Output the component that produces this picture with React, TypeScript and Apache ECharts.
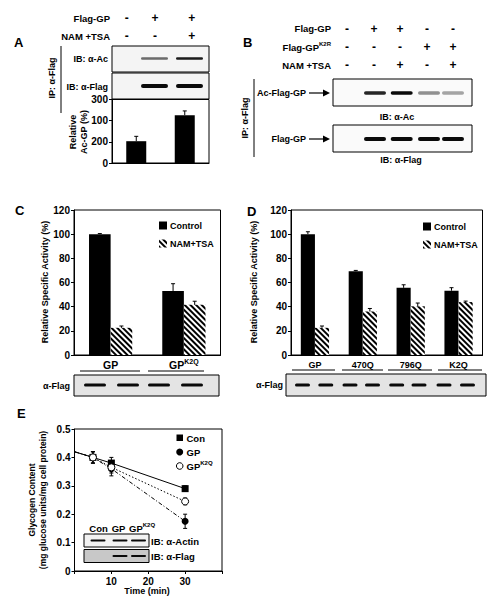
import React, { useEffect, useRef } from 'react';
import * as echarts from 'echarts';

const FONT = '"Liberation Sans", Arial, Helvetica, sans-serif';

// ---------- Panel A ----------
const aCategories = ['Flag-GP', 'Flag-GP + NAM/TSA'];
const aValues = [103, 226];
const aErrors = [23, 20];
const aTickLabels = ['0', '200', '100', '300'];
const aRowLabels = ['Flag-GP', 'NAM +TSA'];
const aSigns = [['-', '+', '+'], ['-', '-', '+']];
const aAcBands = [0, 0.45, 0.9];
const aFlagBands = [0, 1, 1];

// ---------- Panel B ----------
const bSigns = [
  ['-', '+', '+', '-', '-'],
  ['-', '-', '-', '+', '+'],
  ['-', '-', '+', '-', '+'],
];
const bAcBands = [0, 0.85, 1, 0.25, 0.15];
const bFlagBands = [0, 1, 1, 1, 1];

// ---------- Panel C ----------
const cCategories = ['GP', 'GPK2Q'];
const cControl = [100, 53];
const cControlErr = [0.5, 6];
const cNam = [22.5, 41.5];
const cNamErr = [1.5, 3];
const cFlagBands = [1, 1, 1, 1];

// ---------- Panel D ----------
const dCategories = ['GP', '470Q', '796Q', 'K2Q'];
const dControl = [100, 69.3, 55.6, 53.2];
const dControlErr = [2, 0.7, 2.5, 2.5];
const dNam = [22.5, 36, 40.3, 43.8];
const dNamErr = [1.5, 2.5, 2.7, 0.8];
const dFlagBands = [1, 1, 1, 1, 1, 1, 1, 1];

// ---------- Panel E ----------
const eTime = [0, 5, 10, 30];
const eCon = [0.42, 0.40, 0.38, 0.29];
const eConErr = [0, 0.02, 0.02, 0.01];
const eGP = [0.42, 0.40, 0.36, 0.175];
const eGPErr = [0, 0.02, 0.025, 0.025];
const eK2Q = [0.42, 0.40, 0.365, 0.245];
const eK2QErr = [0, 0.02, 0.02, 0.012];
const eInsetActin = [1, 1, 1];
const eInsetFlag = [0, 1, 1];

const GAP = 0.41;

const rich = (size: number) => ({
  n: { fontSize: size, fontWeight: 'bold', fontFamily: FONT, lineHeight: size + 3, fill: '#000', color: '#000' },
  s: { fontSize: Math.round(size * 0.65), fontWeight: 'bold', fontFamily: FONT, lineHeight: Math.round(size * 0.7), verticalAlign: 'top', fill: '#000', color: '#000' },
});

function txt(x: number, y: number, text: string, o: any = {}) {
  return {
    type: 'text',
    x,
    y,
    rotation: o.rotation || 0,
    z: 10,
    style: {
      text,
      fontSize: o.size || 9,
      fontWeight: o.weight || 'bold',
      fontFamily: FONT,
      fill: '#000',
      align: o.align || 'left',
      verticalAlign: 'middle',
      rich: o.rich,
    },
  };
}
function rect(x: number, y: number, w: number, h: number, fill: string, stroke: string | null = '#000') {
  return {
    type: 'rect',
    z: 5,
    shape: { x, y, width: w, height: h },
    style: { fill, stroke: stroke || undefined, lineWidth: stroke ? 1 : 0 },
  };
}
function ln(x1: number, y1: number, x2: number, y2: number, w = 1) {
  return { type: 'line', z: 10, shape: { x1, y1, x2, y2 }, style: { stroke: '#000', lineWidth: w } };
}
function bands(centers: number[], vals: number[], y: number, w: number, h: number) {
  const out: any[] = [];
  centers.forEach((c, i) => {
    const v = vals[i];
    if (v > 0) {
      out.push({
        type: 'rect',
        z: 8,
        shape: { x: c - w / 2, y: y - h / 2, width: w, height: h, r: h / 2 },
        style: { fill: `rgba(10,10,10,${(0.25 + 0.75 * v).toFixed(2)})` },
      });
    }
  });
  return out;
}
function arrow(x1: number, x2: number, y: number) {
  return [
    ln(x1, y, x2 - 5, y, 1.2),
    { type: 'polygon', z: 10, shape: { points: [[x2 - 7, y - 3.5], [x2, y], [x2 - 7, y + 3.5]] }, style: { fill: '#000' } },
  ];
}

function errBar(sign: number, grouped: boolean) {
  return (params: any, api: any) => {
    const i = api.value(0);
    const v = api.value(1);
    const e = api.value(2);
    const p0 = api.coord([i, v]);
    const p1 = api.coord([i, v + e]);
    const band = api.size([1, 0])[0];
    const bw = grouped ? (band * (1 - GAP)) / 2 : 0;
    const x = p0[0] + (sign * bw) / 2;
    return {
      type: 'group',
      children: [
        { type: 'line', shape: { x1: x, y1: p0[1], x2: x, y2: p1[1] }, style: { stroke: '#000', lineWidth: 1 } },
        { type: 'line', shape: { x1: x - 2, y1: p1[1], x2: x + 2, y2: p1[1] }, style: { stroke: '#000', lineWidth: 1 } },
      ],
    };
  };
}
function errBarBoth(params: any, api: any) {
  const t = api.value(0);
  const v = api.value(1);
  const e = api.value(2);
  if (!e) return { type: 'group', children: [] };
  const lo = api.coord([t, v - e]);
  const hi = api.coord([t, v + e]);
  const x = lo[0];
  return {
    type: 'group',
    children: [
      { type: 'line', shape: { x1: x, y1: lo[1], x2: x, y2: hi[1] }, style: { stroke: '#000', lineWidth: 1 } },
      { type: 'line', shape: { x1: x - 2, y1: lo[1], x2: x + 2, y2: lo[1] }, style: { stroke: '#000', lineWidth: 1 } },
      { type: 'line', shape: { x1: x - 2, y1: hi[1], x2: x + 2, y2: hi[1] }, style: { stroke: '#000', lineWidth: 1 } },
    ],
  };
}

const hatch = {
  color: '#fff',
  decal: {
    symbol: 'rect',
    symbolSize: 1,
    color: '#000',
    dashArrayX: [1, 0],
    dashArrayY: [2, 2],
    rotation: Math.PI / 4,
  },
};

const tickLabel = { fontSize: 10, fontWeight: 'bold', fontFamily: FONT, color: '#000' };
const axisLine = { show: true, lineStyle: { color: '#000', width: 1 } };
const yTick = { show: true, length: 3, lineStyle: { color: '#000' } };

function buildOption() {
  const g: any[] = [];

  // ---- Panel A ----
  g.push(txt(14, 42, 'A', { size: 13 }));
  aRowLabels.forEach((l, r) => g.push(txt(110, 18 + r * 18, l, { align: 'right', size: 9.5 })));
  const aCols = [126.7, 155, 191.7];
  aSigns.forEach((row, r) => row.forEach((s, c) => g.push(txt(aCols[c], 18 + r * 18, s, { size: 12, align: 'center' }))));
  g.push(ln(61, 46, 61, 113));
  g.push(txt(52, 78, 'IP: α-Flag', { rotation: Math.PI / 2, align: 'center' }));
  g.push(rect(112, 46, 97, 26, '#f4f4f4'));
  g.push(txt(108, 59, 'IB: α-Ac', { align: 'right' }));
  g.push(...bands([126.7, 154.5, 189.5], aAcBands, 58.5, 27, 2.5));
  g.push(rect(112, 73, 97, 26, '#f4f4f4'));
  g.push(txt(108, 87, 'IB: α-Flag', { align: 'right' }));
  g.push(...bands([126.7, 154.5, 189.5], aFlagBands, 86, 27, 4));
  g.push(txt(73, 132, 'Relative', { rotation: Math.PI / 2, align: 'center' }));
  g.push(txt(84, 132, 'Ac-GP (%)', { rotation: Math.PI / 2, align: 'center' }));

  // ---- Panel B ----
  g.push(txt(243, 42, 'B', { size: 13 }));
  g.push(txt(331, 28.5, 'Flag-GP', { align: 'right', size: 9.5 }));
  g.push(txt(331, 47, '{n|Flag-GP}{s|K2R}', { align: 'right', rich: rich(9.5) }));
  g.push(txt(331, 65, 'NAM +TSA', { align: 'right', size: 9.5 }));
  const bCols = [347, 374, 400, 427, 453];
  bSigns.forEach((row, r) => row.forEach((s, c) => g.push(txt(bCols[c], 28.5 + r * 18.3, s, { size: 12, align: 'center' }))));
  g.push(ln(254, 79, 254, 157));
  g.push(txt(245, 118, 'IP: α-Flag', { rotation: Math.PI / 2, align: 'center' }));
  g.push(rect(333, 79, 139, 27, '#fafafa'));
  g.push(txt(306, 93, 'Ac-Flag-GP', { align: 'right' }));
  g.push(...arrow(309, 330, 93));
  g.push(...bands([347, 375, 401.7, 429, 453], bAcBands, 93, 22, 3.5));
  g.push(txt(397, 117, 'IB: α-Ac', { align: 'center' }));
  g.push(rect(333, 125, 139, 27, '#fafafa'));
  g.push(txt(306, 139, 'Flag-GP', { align: 'right' }));
  g.push(...arrow(309, 330, 139));
  g.push(...bands([347, 375, 401.7, 429, 453], bFlagBands, 139, 22, 4));
  g.push(txt(401, 160, 'IB: α-Flag', { align: 'center' }));

  // ---- Panel C ----
  g.push(txt(15, 210, 'C', { size: 13 }));
  g.push(txt(45, 282, 'Relative Specific Activity (%)', { rotation: Math.PI / 2, align: 'center' }));
  g.push(ln(80, 371, 140, 371));
  g.push(ln(148, 371, 204, 371));
  g.push(rect(74, 375, 145, 21, '#e4e4e4'));
  g.push(txt(70, 386, 'α-Flag', { align: 'right' }));
  g.push(...bands([95, 128, 159, 192], cFlagBands, 385, 22, 3));

  // ---- Panel D ----
  g.push(txt(247, 211, 'D', { size: 13 }));
  g.push(txt(254, 282, 'Relative Specific Activity (%)', { rotation: Math.PI / 2, align: 'center' }));
  [[292, 335], [342, 383], [388, 432], [438, 482]].forEach(([a, b]) => g.push(ln(a, 370, b, 370)));
  g.push(rect(286, 374, 200, 22, '#e4e4e4'));
  g.push(txt(283, 385, 'α-Flag', { align: 'right' }));
  g.push(...bands([302.5, 325.8, 350, 372.5, 396.7, 419, 444, 467.5], dFlagBands, 385, 15, 3));

  // ---- Panel E ----
  g.push(txt(17, 413, 'E', { size: 13 }));
  g.push(txt(32, 500, 'Glycogen Content', { rotation: Math.PI / 2, align: 'center', size: 8.5 }));
  g.push(txt(43, 500, '(mg glucose units/mg cell protein)', { rotation: Math.PI / 2, align: 'center', size: 8.5 }));
  g.push(txt(147, 591, 'Time (min)', { align: 'center' }));
  // legend E
  g.push({ type: 'rect', z: 10, shape: { x: 176.5, y: 434.5, width: 6.5, height: 6.5 }, style: { fill: '#000' } });
  g.push(txt(186.5, 438, 'Con', { size: 9.5 }));
  g.push({ type: 'circle', z: 10, shape: { cx: 179.7, cy: 452, r: 3.5 }, style: { fill: '#000' } });
  g.push(txt(186.5, 452, 'GP', { size: 9.5 }));
  g.push({ type: 'circle', z: 10, shape: { cx: 179.7, cy: 466, r: 3.3 }, style: { fill: '#fff', stroke: '#000', lineWidth: 1 } });
  g.push(txt(186.5, 466, '{n|GP}{s|K2Q}', { rich: rich(9.5) }));
  // inset E
  g.push(txt(98.5, 528, 'Con', { align: 'center', size: 9.5 }));
  g.push(txt(118.5, 528, 'GP', { align: 'center', size: 9.5 }));
  g.push(txt(129, 528, '{n|GP}{s|K2Q}', { align: 'left', rich: rich(9.5) }));
  g.push(rect(84, 534, 65, 13, '#f2f2f2'));
  g.push(...bands([98, 120, 138.5], eInsetActin, 540.5, 15, 2));
  g.push(rect(84, 549.5, 65, 13, '#c8c8c8'));
  g.push(...bands([98, 120, 138.5], eInsetFlag, 556, 15, 2));
  g.push(txt(151, 541, 'IB: α-Actin', { size: 9.5 }));
  g.push(txt(151, 556, 'IB: α-Flag', { size: 9.5 }));

  const catAxisBase = {
    type: 'category',
    axisLine,
    axisTick: { show: false },
    splitLine: { show: false },
  };

  return {
    animation: false,
    backgroundColor: '#fff',
    textStyle: { fontFamily: FONT },
    grid: [
      { left: 112, top: 99.5, width: 97, height: 63.5, show: true, borderColor: '#000', borderWidth: 1 },
      { left: 74, top: 210, width: 146.5, height: 145, show: true, borderColor: '#000', borderWidth: 1 },
      { left: 291, top: 210, width: 191.5, height: 145, show: true, borderColor: '#000', borderWidth: 1 },
      { left: 74.5, top: 429, width: 147.5, height: 142, show: true, borderColor: '#000', borderWidth: 1 },
    ],
    xAxis: [
      { ...catAxisBase, gridIndex: 0, data: aCategories, axisLabel: { show: false } },
      {
        ...catAxisBase,
        gridIndex: 1,
        data: cCategories,
        axisLabel: {
          ...tickLabel,
          interval: 0,
          margin: 3,
          formatter: (v: string) => (v === 'GPK2Q' ? '{n|GP}{s|K2Q}' : '{n|' + v + '}'),
          rich: rich(10.5),
        },
      },
      { ...catAxisBase, gridIndex: 2, data: dCategories, axisLabel: { ...tickLabel, interval: 0, fontSize: 9, margin: 5 } },
      {
        type: 'value',
        gridIndex: 3,
        min: 0,
        max: 40,
        interval: 10,
        axisLine,
        axisTick: { show: true, length: 3, lineStyle: { color: '#000' } },
        splitLine: { show: false },
        axisLabel: { ...tickLabel, margin: 5, formatter: (v: number) => (v === 0 || v === 40 ? '' : String(v)) },
      },
    ],
    yAxis: [
      {
        type: 'value', gridIndex: 0, min: 0, max: 300, interval: 100, axisLine, axisTick: yTick, splitLine: { show: false },
        axisLabel: { ...tickLabel, margin: 4, formatter: (v: number) => aTickLabels[Math.round(v / 100)] },
      },
      {
        type: 'value', gridIndex: 1, min: 0, max: 120, interval: 20, axisLine, axisTick: yTick, splitLine: { show: false },
        axisLabel: { ...tickLabel, margin: 4 },
      },
      {
        type: 'value', gridIndex: 2, min: 0, max: 120, interval: 20, axisLine, axisTick: yTick, splitLine: { show: false },
        axisLabel: { ...tickLabel, margin: 4 },
      },
      {
        type: 'value', gridIndex: 3, min: 0, max: 0.5, interval: 0.1, axisLine, axisTick: yTick, splitLine: { show: false },
        axisLabel: { ...tickLabel, margin: 4, formatter: (v: number) => (v === 0 ? '0' : v.toFixed(1)) },
      },
    ],
    legend: [
      {
        left: 154, top: 216, orient: 'vertical', itemGap: 9, itemWidth: 8, itemHeight: 8, icon: 'rect',
        data: ['Control', 'NAM+TSA'],
        textStyle: { fontSize: 9, fontWeight: 'bold', fontFamily: FONT, color: '#000', padding: [0, 0, 0, -2] },
      },
      {
        left: 418, top: 217, orient: 'vertical', itemGap: 9, itemWidth: 8, itemHeight: 8, icon: 'rect',
        data: ['Control', 'NAM+TSA'],
        textStyle: { fontSize: 9, fontWeight: 'bold', fontFamily: FONT, color: '#000', padding: [0, 0, 0, -2] },
      },
    ],
    graphic: g,
    series: [
      // A
      { type: 'bar', name: 'Ac-GP', xAxisIndex: 0, yAxisIndex: 0, data: aValues, barWidth: 20, itemStyle: { color: '#000' } },
      {
        type: 'custom', xAxisIndex: 0, yAxisIndex: 0, z: 5, renderItem: errBar(0, false),
        data: aValues.map((v, i) => [i, v, aErrors[i]]),
      },
      // C
      {
        type: 'bar', name: 'Control', xAxisIndex: 1, yAxisIndex: 1, data: cControl, barGap: '0%', barCategoryGap: '41%',
        itemStyle: { color: '#000' },
      },
      {
        type: 'bar', name: 'NAM+TSA', xAxisIndex: 1, yAxisIndex: 1, data: cNam, barGap: '0%', barCategoryGap: '41%',
        itemStyle: hatch,
      },
      { type: 'custom', xAxisIndex: 1, yAxisIndex: 1, z: 5, renderItem: errBar(-1, true), data: cControl.map((v, i) => [i, v, cControlErr[i]]) },
      { type: 'custom', xAxisIndex: 1, yAxisIndex: 1, z: 5, renderItem: errBar(1, true), data: cNam.map((v, i) => [i, v, cNamErr[i]]) },
      // D
      {
        type: 'bar', name: 'Control', xAxisIndex: 2, yAxisIndex: 2, data: dControl, barGap: '0%', barCategoryGap: '41%',
        itemStyle: { color: '#000' },
      },
      {
        type: 'bar', name: 'NAM+TSA', xAxisIndex: 2, yAxisIndex: 2, data: dNam, barGap: '0%', barCategoryGap: '41%',
        itemStyle: hatch,
      },
      { type: 'custom', xAxisIndex: 2, yAxisIndex: 2, z: 5, renderItem: errBar(-1, true), data: dControl.map((v, i) => [i, v, dControlErr[i]]) },
      { type: 'custom', xAxisIndex: 2, yAxisIndex: 2, z: 5, renderItem: errBar(1, true), data: dNam.map((v, i) => [i, v, dNamErr[i]]) },
      // E
      {
        type: 'line', name: 'Con', xAxisIndex: 3, yAxisIndex: 3, symbol: 'rect', symbolSize: 7,
        lineStyle: { color: '#000', width: 1 }, itemStyle: { color: '#000' },
        data: eTime.map((t, i) => (i === 0 ? { value: [t, eCon[i]], symbol: 'none' } : [t, eCon[i]])),
      },
      {
        type: 'line', name: 'GP', xAxisIndex: 3, yAxisIndex: 3, symbol: 'circle', symbolSize: 7,
        lineStyle: { color: '#000', width: 1, type: [4, 2, 1, 2] }, itemStyle: { color: '#000' },
        data: eTime.map((t, i) => (i === 0 ? { value: [t, eGP[i]], symbol: 'none' } : [t, eGP[i]])),
      },
      {
        type: 'line', name: 'GPK2Q', xAxisIndex: 3, yAxisIndex: 3, symbol: 'circle', symbolSize: 7,
        lineStyle: { color: '#000', width: 1, type: [1.5, 2] }, itemStyle: { color: '#fff', borderColor: '#000', borderWidth: 1 },
        data: eTime.map((t, i) => (i === 0 ? { value: [t, eK2Q[i]], symbol: 'none' } : [t, eK2Q[i]])),
      },
      { type: 'custom', xAxisIndex: 3, yAxisIndex: 3, z: 1, renderItem: errBarBoth, data: eTime.map((t, i) => [t, eCon[i], eConErr[i]]) },
      { type: 'custom', xAxisIndex: 3, yAxisIndex: 3, z: 1, renderItem: errBarBoth, data: eTime.map((t, i) => [t, eGP[i], eGPErr[i]]) },
      { type: 'custom', xAxisIndex: 3, yAxisIndex: 3, z: 1, renderItem: errBarBoth, data: eTime.map((t, i) => [t, eK2Q[i], eK2QErr[i]]) },
    ],
  };
}

export default function App() {
  const ref = useRef<HTMLDivElement>(null);
  useEffect(() => {
    const chart = echarts.init(ref.current!, null, { renderer: 'svg' });
    chart.setOption(buildOption() as any);
    return () => chart.dispose();
  }, []);
  return (
    <div
      ref={ref}
      style={{ position: 'absolute', left: 0, top: 0, width: 494, height: 599, background: '#fff' }}
    />
  );
}
